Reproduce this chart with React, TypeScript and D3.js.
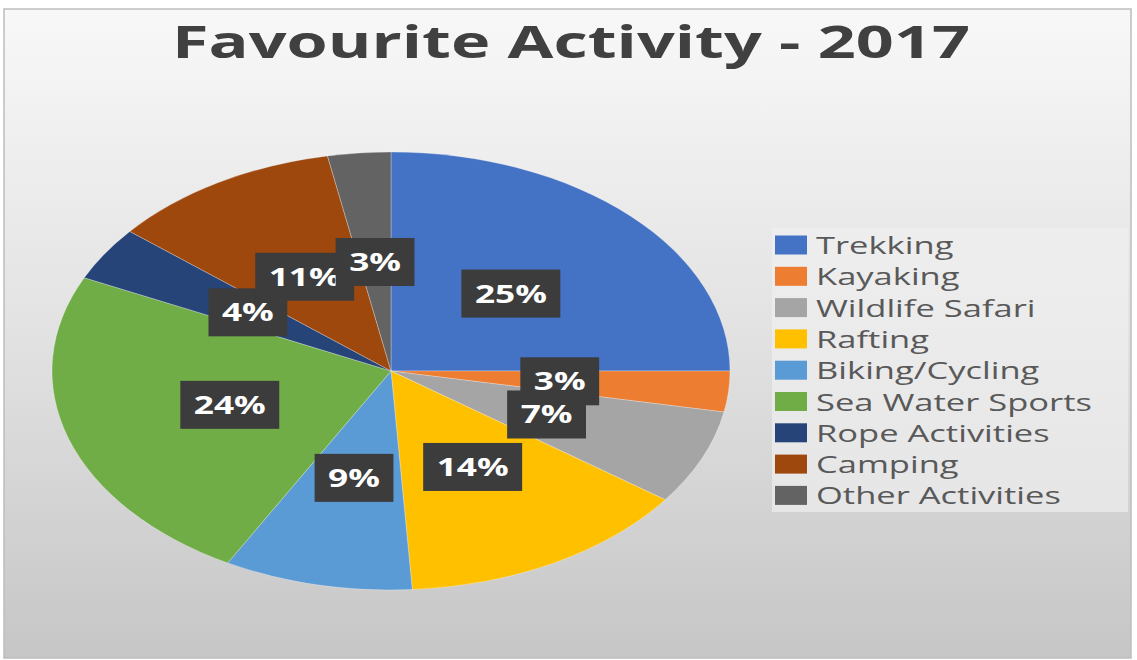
import React, { useEffect, useRef } from 'react';
import * as d3 from 'd3';

const categories = ['Trekking', 'Kayaking', 'Wildlife Safari', 'Rafting', 'Biking/Cycling', 'Sea Water Sports', 'Rope Activities', 'Camping', 'Other Activities'];
const values = [25, 3, 7, 14, 9, 24, 4, 11, 3];
const colors = ['#4472C4', '#ED7D31', '#A5A5A5', '#FFC000', '#5B9BD5', '#70AD47', '#264478', '#9E480E', '#636363'];
const labels = ['25%', '3%', '7%', '14%', '9%', '24%', '4%', '11%', '3%'];
const title = 'Favourite Activity - 2017';

export default function App() {
  const ref = useRef<SVGSVGElement>(null);

  useEffect(() => {
    const W = 1137, H = 660;
    const svg = d3.select(ref.current!);
    svg.selectAll('*').remove();

    const defs = svg.append('defs');
    const bg = defs.append('linearGradient').attr('id', 'bg').attr('x1', 0).attr('y1', 0).attr('x2', 0).attr('y2', 1);
    bg.append('stop').attr('offset', '0%').attr('stop-color', '#f8f8f8');
    bg.append('stop').attr('offset', '50%').attr('stop-color', '#e2e2e2');
    bg.append('stop').attr('offset', '100%').attr('stop-color', '#c6c6c6');
    const lg = defs.append('linearGradient').attr('id', 'lg').attr('x1', 0).attr('y1', 0).attr('x2', 0).attr('y2', 1);
    lg.append('stop').attr('offset', '0%').attr('stop-color', '#eeeeee');
    lg.append('stop').attr('offset', '100%').attr('stop-color', '#e6e6e6');

    svg.append('rect').attr('x', 0).attr('y', 0).attr('width', W).attr('height', H).attr('fill', '#ffffff');
    svg.append('rect').attr('x', 4).attr('y', 9).attr('width', 1127).attr('height', 649)
      .attr('fill', 'url(#bg)').attr('stroke', '#bdbdbd').attr('stroke-width', 1.5);

    // Title
    svg.append('text').attr('x', 172).attr('y', 58)
      .attr('font-family', '"Open Sans", sans-serif').attr('font-weight', 700).attr('font-size', 45)
      .attr('fill', '#404040').attr('textLength', 798).attr('lengthAdjust', 'spacingAndGlyphs')
      .text(title);

    // Pie (elliptical)
    const cx = 391, cy = 371, rx = 339, ry = 219;
    const pie = d3.pie<number>().sort(null).value(d => d);
    const arcs = pie(values);
    const arc = d3.arc<d3.PieArcDatum<number>>().innerRadius(0).outerRadius(ry);
    const g = svg.append('g').attr('transform', `translate(${cx},${cy}) scale(${rx / ry},1)`);
    g.selectAll('path').data(arcs).join('path')
      .attr('d', d => arc(d) as string)
      .attr('fill', (_d, i) => colors[i])
      .attr('stroke', '#ffffff').attr('stroke-opacity', 0.35).attr('stroke-width', 0.8)
      .attr('vector-effect', 'non-scaling-stroke');

    // Data labels
    const labelArc = d3.arc<d3.PieArcDatum<number>>().innerRadius(ry / 2).outerRadius(ry / 2);
    const measure = svg.append('text')
      .attr('font-family', '"Open Sans", sans-serif').attr('font-weight', 700).attr('font-size', 25)
      .text('14%');
    const sxL = 72 / (measure.node() as SVGTextElement).getComputedTextLength();
    measure.remove();

    const lab = svg.append('g');
    arcs.forEach((d, i) => {
      const [x, y] = labelArc.centroid(d);
      const px = cx + x * rx / ry;
      const py = cy + y;
      const gg = lab.append('g');
      const t = gg.append('text')
        .attr('font-family', '"Open Sans", sans-serif').attr('font-weight', 700).attr('font-size', 25)
        .attr('fill', '#ffffff').attr('text-anchor', 'middle')
        .attr('transform', `translate(${px},${py + 9}) scale(${sxL},1)`)
        .text(labels[i]);
      const w = (t.node() as SVGTextElement).getComputedTextLength() * sxL + 27;
      gg.insert('rect', 'text').attr('x', px - w / 2).attr('y', py - 24).attr('width', w).attr('height', 48)
        .attr('fill', '#3c3c3c');
    });

    // Legend
    svg.append('rect').attr('x', 772).attr('y', 228).attr('width', 356).attr('height', 284).attr('fill', 'url(#lg)');
    const m2 = svg.append('text')
      .attr('font-family', '"Open Sans", sans-serif').attr('font-size', 24)
      .text('Sea Water Sports');
    const sxT = 276 / (m2.node() as SVGTextElement).getComputedTextLength();
    m2.remove();
    const leg = svg.append('g');
    categories.forEach((c, i) => {
      const yc = 245 + i * 31.3;
      leg.append('rect').attr('x', 775).attr('y', yc - 9.5).attr('width', 32).attr('height', 19).attr('fill', colors[i]);
      leg.append('text')
        .attr('font-family', '"Open Sans", sans-serif').attr('font-size', 24).attr('fill', '#595959')
        .attr('transform', `translate(816,${yc + 9}) scale(${sxT},1)`)
        .text(c);
    });
  }, []);

  return (
    <svg ref={ref} width={1137} height={660} style={{ position: 'absolute', left: 0, top: 0, display: 'block' }} />
  );
}
